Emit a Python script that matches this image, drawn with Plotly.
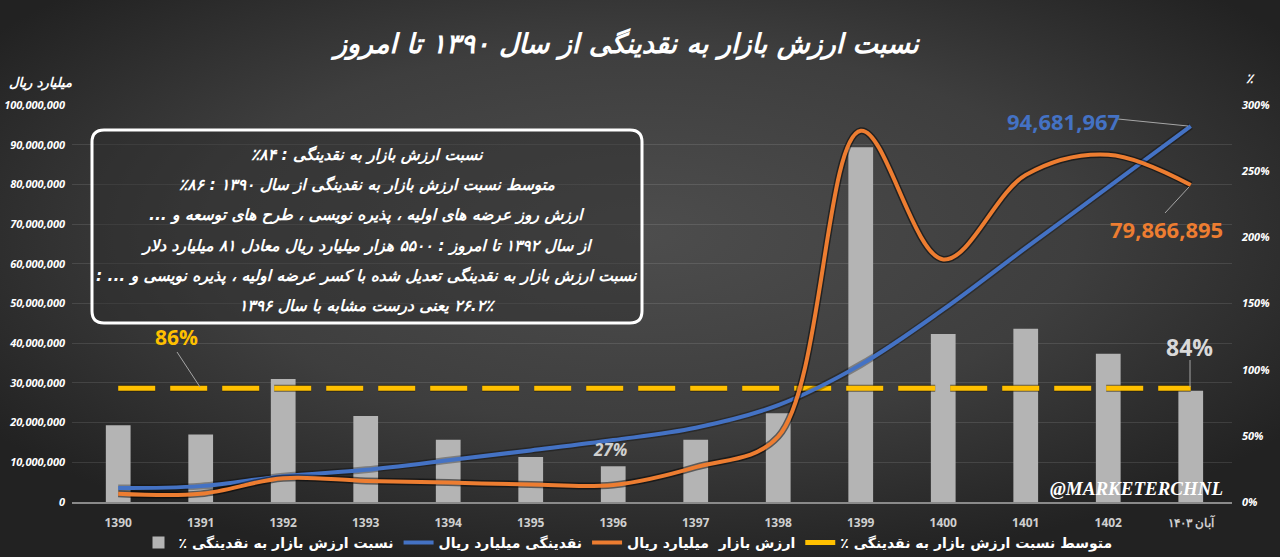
import base64
import plotly.graph_objects as go

# ---------------- data ----------------
years = ["1390", "1391", "1392", "1393", "1394", "1395", "1396",
         "1397", "1398", "1399", "1400", "1401", "1402", "آبان ۱۴۰۳"]
ratio_pct = [58, 51, 93, 65, 47, 34, 27, 47, 67, 268, 127, 131, 112, 84]
liquidity = [3500000, 4000000, 6500000, 8100000, 10500000, 13000000, 15600000,
             18700000, 24400000, 34600000, 48500000, 64000000, 79300000, 94681967]
market_value = [2100000, 2050000, 6000000, 5300000, 4900000, 4400000, 4300000,
                8800000, 16500000, 93500000, 61100000, 82400000, 87500000, 79866895]
avg_ratio = 86
avg_series = [avg_ratio] * len(years)
left_ticks = [0, 10000000, 20000000, 30000000, 40000000, 50000000,
              60000000, 70000000, 80000000, 90000000, 100000000]
right_ticks = [0, 50, 100, 150, 200, 250, 300]

title_text = "نسبت ارزش بازار به نقدینگی از سال ۱۳۹۰ تا امروز"
box_lines = [
    "نسبت ارزش بازار به نقدینگی : ۸۴٪",
    "متوسط نسبت ارزش بازار به نقدینگی از سال ۱۳۹۰ : ۸۶٪",
    "ارزش روز عرضه های اولیه ، پذیره نویسی ، طرح های توسعه و ...",
    "از سال ۱۳۹۲ تا امروز : ۵۵۰۰ هزار میلیارد ریال معادل ۸۱ میلیارد دلار",
    "نسبت ارزش بازار به نقدینگی تعدیل شده با کسر عرضه اولیه ، پذیره نویسی و ... :",
    "۲۶.۲٪ یعنی درست مشابه با سال ۱۳۹۶",
]
name_ratio = "نسبت ارزش بازار به نقدینگی ٪"
name_liq = "نقدینگی میلیارد ریال"
name_mv = "ارزش بازار  میلیارد ریال"
name_avg = "متوسط نسبت ارزش بازار به نقدینگی ٪"
left_title = "میلیارد ریال"
right_title = "٪"


def rtl(s):
    return "\u200F" + s + "\u200F"


# ---------------- geometry helpers ----------------
W, H = 1280, 557
L, R, T, B = 72, 48, 105, 55
PW, PH = W - L - R, H - T - B


def px(x):
    return (x - L) / PW


def py(y):
    return (H - B - y) / PH


FA = "DejaVu Sans"
NUM = "Open Sans"

fig = go.Figure()

# bars on percent axis (y)
fig.add_trace(go.Bar(
    x=years, y=ratio_pct, yaxis="y", name=rtl(name_ratio), legendrank=1,
    width=0.3, marker=dict(color="#b4b4b4", line=dict(width=0)),
    hoverinfo="skip"))

# average dashed line (shadow + line)
fig.add_trace(go.Scatter(
    x=years, y=avg_series, yaxis="y", mode="lines", showlegend=False,
    line=dict(color="rgba(40,30,0,0.6)", width=7, dash="37px,15px"),
    hoverinfo="skip"))
fig.add_trace(go.Scatter(
    x=years, y=avg_series, yaxis="y", mode="lines", name=rtl(name_avg),
    legendrank=4, line=dict(color="#FFC000", width=5, dash="37px,15px"),
    hoverinfo="skip"))

# liquidity (blue) on value axis y2
fig.add_trace(go.Scatter(
    x=years, y=liquidity, yaxis="y2", mode="lines", showlegend=False,
    line=dict(color="rgba(0,0,0,0.3)", width=7, shape="spline"),
    hoverinfo="skip"))
fig.add_trace(go.Scatter(
    x=years, y=liquidity, yaxis="y2", mode="lines", name=rtl(name_liq),
    legendrank=2, line=dict(color="#4472C4", width=4, shape="spline"),
    hoverinfo="skip"))

# market value (orange)
fig.add_trace(go.Scatter(
    x=years, y=market_value, yaxis="y2", mode="lines", showlegend=False,
    line=dict(color="rgba(0,0,0,0.5)", width=7, shape="spline"),
    hoverinfo="skip"))
fig.add_trace(go.Scatter(
    x=years, y=market_value, yaxis="y2", mode="lines", name=rtl(name_mv),
    legendrank=3, line=dict(color="#ED7D31", width=4, shape="spline"),
    hoverinfo="skip"))

# ---------------- background gradient ----------------
svg = ('<svg xmlns="http://www.w3.org/2000/svg" width="1280" height="557" '
       'preserveAspectRatio="none">'
       '<defs><radialGradient id="g" cx="50%" cy="42%" r="62%">'
       '<stop offset="0" stop-color="#4d4d4d"/>'
       '<stop offset="0.55" stop-color="#3e3e3e"/>'
       '<stop offset="1" stop-color="#222222"/>'
       '</radialGradient></defs>'
       '<rect width="1280" height="557" fill="url(#g)"/></svg>')
src = "data:image/svg+xml;base64," + base64.b64encode(svg.encode()).decode()

shapes = []
annotations = []

# text box (rounded rectangle)
x0, y0, x1, y1, r = 92, 130, 642, 323, 12
path = (f"M {px(x0 + r)},{py(y0)} L {px(x1 - r)},{py(y0)} "
        f"Q {px(x1)},{py(y0)} {px(x1)},{py(y0 + r)} "
        f"L {px(x1)},{py(y1 - r)} Q {px(x1)},{py(y1)} {px(x1 - r)},{py(y1)} "
        f"L {px(x0 + r)},{py(y1)} Q {px(x0)},{py(y1)} {px(x0)},{py(y1 - r)} "
        f"L {px(x0)},{py(y0 + r)} Q {px(x0)},{py(y0)} {px(x0 + r)},{py(y0)} Z")
shapes.append(dict(type="path", xref="paper", yref="paper", path=path,
                   line=dict(color="white", width=3),
                   fillcolor="rgba(45,45,45,0.45)", layer="above"))

line_y = [155, 185, 215, 246, 276, 306]
for txt, yy in zip(box_lines, line_y):
    annotations.append(dict(
        text=rtl(txt), xref="paper", yref="paper", x=px(367), y=py(yy),
        xanchor="center", yanchor="middle", showarrow=False,
        font=dict(family=FA, size=15.5, color="white", weight="bold",
                  style="italic")))

# leader lines
for (ax0, ay0, ax1, ay1) in [(1118, 119, 1188, 126), (1189, 187, 1165, 213),
                             (1190, 360, 1190, 387), (177, 352, 200, 387)]:
    shapes.append(dict(type="line", xref="paper", yref="paper",
                       x0=px(ax0), y0=py(ay0), x1=px(ax1), y1=py(ay1),
                       line=dict(color="#a6a6a6", width=1)))


def label(text, x, y, size, color, family=NUM, weight="bold", style="normal"):
    annotations.append(dict(
        text=text, xref="paper", yref="paper", x=px(x), y=py(y),
        xanchor="center", yanchor="middle", showarrow=False,
        font=dict(family=family, size=size, color=color, weight=weight,
                  style=style)))


label(f"{liquidity[-1]:,}", 1063, 121, 22, "#4472C4")
label(f"{market_value[-1]:,}", 1166, 229, 22, "#ED7D31")
label(f"{ratio_pct[-1]}%", 1189, 347, 23, "#d9d9d9")
label(f"{avg_ratio}%", 176, 337, 21, "#FFC000")
label(f"{ratio_pct[6]}%", 610, 449, 17, "#d0d0d0", style="italic")
label("@MARKETERCHNL", 1136, 488, 19, "white", family="Liberation Serif",
      style="italic")

# titles
label(rtl(title_text), 625, 45, 27, "white", family=FA, style="italic")
label(rtl(left_title), 40, 83, 13, "white", family=FA, style="italic")
label(right_title, 1250, 78, 13, "white", family=FA, style="italic")

fig.update_layout(
    width=W, height=H,
    margin=dict(l=L, r=R, t=T, b=B, pad=0, autoexpand=False),
    paper_bgcolor="#333333",
    plot_bgcolor="rgba(0,0,0,0)",
    showlegend=True,
    images=[dict(source=src, xref="paper", yref="paper",
                 x=-L / PW, y=1 + T / PH, sizex=W / PW, sizey=H / PH,
                 xanchor="left", yanchor="top", sizing="stretch",
                 layer="below")],
    xaxis=dict(type="category", range=[-0.56, 13.5], showgrid=False,
               showline=True, linecolor="#8a8a8a", linewidth=2,
               ticks="", ticklabelstandoff=9, automargin=False,
               tickfont=dict(family=NUM, size=12, color="#cfcfcf",
                             weight="bold")),
    yaxis=dict(side="right", range=[0, 300], tickvals=right_ticks,
               ticktext=[f"{v}%" for v in right_ticks], showgrid=False,
               zeroline=False, ticks="", ticklabelstandoff=9, automargin=False,
               tickfont=dict(family=NUM, size=11, color="white",
                             weight="bold", style="italic")),
    yaxis2=dict(overlaying="y", side="left", range=[0, 100000000],
                tickvals=left_ticks, tickformat=",d", showgrid=True,
                gridcolor="rgba(255,255,255,0.11)", gridwidth=1,
                zeroline=False, ticks="", ticklabelstandoff=6, automargin=False,
                tickfont=dict(family=NUM, size=11, color="white",
                              weight="bold", style="italic")),
    legend=dict(orientation="h", x=px(628), xanchor="center",
                y=py(543), yanchor="middle", bgcolor="rgba(0,0,0,0)",
                font=dict(family=FA, size=14, color="white", weight="bold"),
                itemwidth=30),
    shapes=shapes,
    annotations=annotations,
)

fig.write_html("out.html")
